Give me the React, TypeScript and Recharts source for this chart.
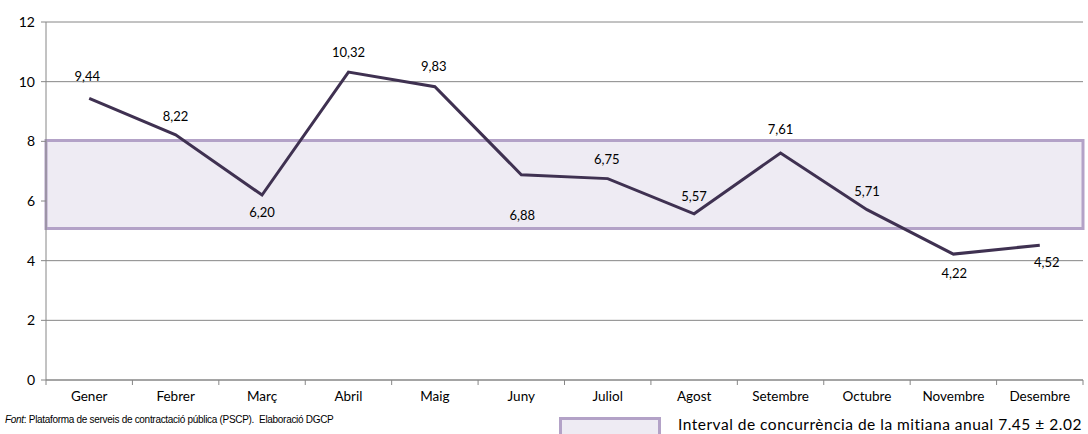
import React from 'react';
import {
  ComposedChart,
  Line,
  XAxis,
  YAxis,
  CartesianGrid,
  ReferenceArea,
  LabelList,
} from 'recharts';

// months (Catalan)
const months = ['Gener', 'Febrer', 'Març', 'Abril', 'Maig', 'Juny', 'Juliol', 'Agost', 'Setembre', 'Octubre', 'Novembre', 'Desembre'];
// monthly average number of bids
const concurrencia = [9.44, 8.22, 6.2, 10.32, 9.83, 6.88, 6.75, 5.57, 7.61, 5.71, 4.22, 4.52];
// annual mean interval band
const bandLow = 5.08;
const bandHigh = 8.03;
const yTicks = [0, 2, 4, 6, 8, 10, 12];

// where each data label sits relative to its point (style only)
const labelOffsets: Array<[number, number]> = [
  [-2, -22], [0, -19], [0, 17], [0, -20], [-1, -21], [1, 40],
  [-1, -20], [0, -18], [0, -24], [0, -19], [1, 19], [7, 17],
];

const W = 1088;
const H = 434;
const M = { top: 22, right: 5, bottom: 30, left: 0 };
const Y_W = 46;
const PLOT_W = W - M.left - M.right - Y_W;
const HALF = PLOT_W / months.length / 2;
const FONT = 'Lato, "Open Sans", sans-serif';
const GRID = '#868686';
const LINE = '#3F3151';

const data = months.map((m, i) => ({ name: m, value: concurrencia[i] }));

const MonthTick = (props: any) => {
  const { x, y, payload, index } = props;
  return (
    <g>
      <line x1={x - HALF} x2={x - HALF} y1={y - 8} y2={y - 3} stroke={GRID} />
      {index === months.length - 1 && (
        <line x1={x + HALF} x2={x + HALF} y1={y - 8} y2={y - 3} stroke={GRID} />
      )}
      <text x={x} y={y + 13} textAnchor="middle" fill="#000" fontSize={13.5} fontFamily={FONT}>
        {payload.value}
      </text>
    </g>
  );
};

const ValueLabel = (props: any) => {
  const { x, y, value, index } = props;
  const [dx, dy] = labelOffsets[index] || [0, -18];
  return (
    <text x={x + dx} y={y + dy} textAnchor="middle" dominantBaseline="central" fill="#000" fontSize={13} fontFamily={FONT}>
      {Number(value).toFixed(2).replace('.', ',')}
    </text>
  );
};

export default function App() {
  return (
    <div style={{ position: 'absolute', left: 0, top: 0, width: W, height: H, background: '#fff', overflow: 'hidden' }}>
      <ComposedChart width={W} height={H} data={data} margin={M}>
        <CartesianGrid vertical={false} stroke={GRID} strokeWidth={1} />
        <ReferenceArea
          y1={bandLow}
          y2={bandHigh}
          fill="#EEEBF3"
          fillOpacity={1}
          stroke="#B3A2C7"
          strokeWidth={3}
          ifOverflow="visible"
        />
        <XAxis
          dataKey="name"
          scale="band"
          axisLine={{ stroke: GRID }}
          tickLine={false}
          tick={<MonthTick />}
          height={24}
          interval={0}
        />
        <YAxis
          domain={[0, 12]}
          ticks={yTicks}
          width={Y_W}
          axisLine={{ stroke: GRID }}
          tickLine={{ stroke: GRID }}
          tickSize={5}
          tickMargin={6}
          tick={{ fill: '#000', fontSize: 14, fontFamily: FONT }}
        />
        <Line
          type="linear"
          dataKey="value"
          stroke={LINE}
          strokeWidth={3}
          dot={false}
          isAnimationActive={false}
        >
          <LabelList dataKey="value" content={<ValueLabel />} />
        </Line>
      </ComposedChart>
      <div
        style={{
          position: 'absolute',
          left: 5,
          top: 414,
          fontFamily: '"Liberation Sans", Arial, sans-serif',
          fontSize: 10,
          letterSpacing: -0.3,
          color: '#000',
          whiteSpace: 'nowrap',
        }}
      >
        <i>Font</i>: Plataforma de serveis de contractació pública (PSCP).&nbsp; Elaboració DGCP
      </div>
      <div
        style={{
          position: 'absolute',
          left: 559,
          top: 417,
          width: 102,
          height: 30,
          background: '#EEEBF3',
          border: '3px solid #B3A2C7',
          boxSizing: 'border-box',
        }}
      />
      <div
        style={{
          position: 'absolute',
          left: 678,
          top: 415,
          fontFamily: FONT,
          fontSize: 15.5,
          letterSpacing: 0.5,
          color: '#000',
          whiteSpace: 'nowrap',
        }}
      >
        Interval de concurrència de la mitiana anual 7.45 ± 2.02
      </div>
    </div>
  );
}
